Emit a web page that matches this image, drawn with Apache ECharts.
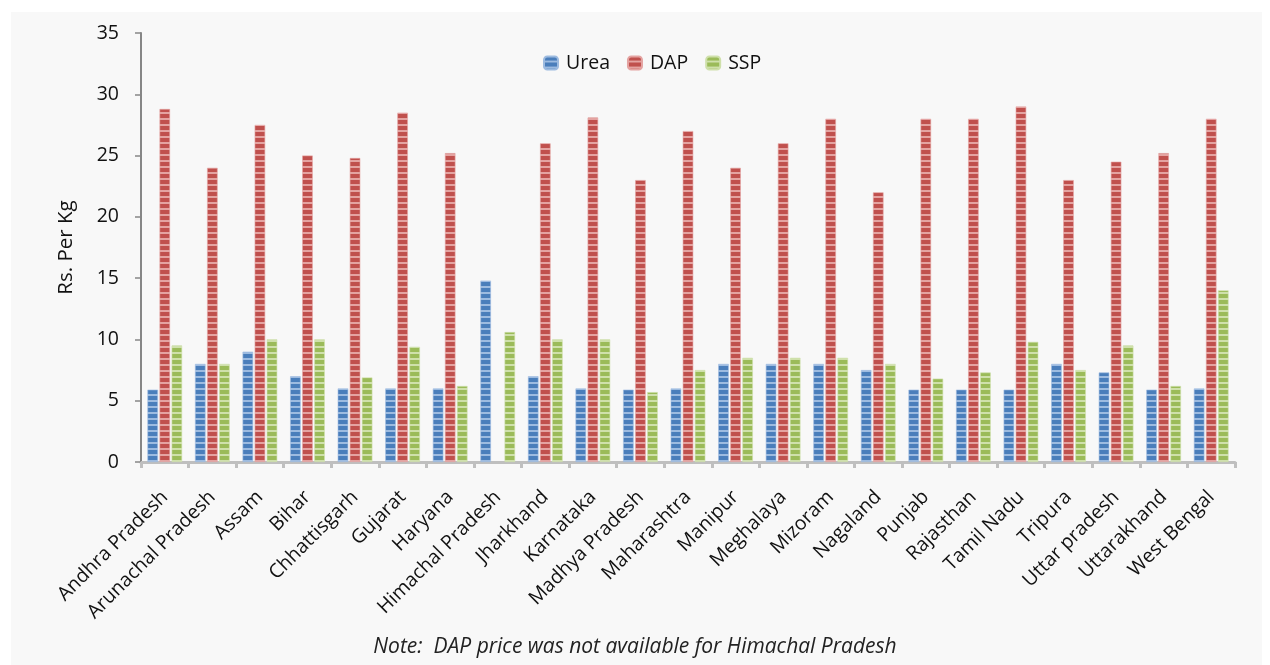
<!DOCTYPE html>
<html>
<head>
<meta charset="utf-8">
<script src="https://cdn.jsdelivr.net/npm/echarts@6/dist/echarts.min.js"></script>
<style>
  html, body { margin: 0; padding: 0; background: #ffffff; }
  #chart { width: 1270px; height: 665px; }
</style>
</head>
<body>
<div id="chart"></div>
<script>
// Fertilizer retail prices by state (Rs. per kg)
const states = [
  'Andhra Pradesh', 'Arunachal Pradesh', 'Assam', 'Bihar', 'Chhattisgarh',
  'Gujarat', 'Haryana', 'Himachal Pradesh', 'Jharkhand', 'Karnataka',
  'Madhya Pradesh', 'Maharashtra', 'Manipur', 'Meghalaya', 'Mizoram',
  'Nagaland', 'Punjab', 'Rajasthan', 'Tamil Nadu', 'Tripura',
  'Uttar pradesh', 'Uttarakhand', 'West Bengal'
];
const urea = [5.9, 8, 9, 7, 6, 6, 6, 14.8, 7, 6, 5.9, 6, 8, 8, 8, 7.5, 5.9, 5.9, 5.9, 8, 7.3, 5.9, 6];
// DAP price not available for Himachal Pradesh
const dap = [28.8, 24, 27.5, 25, 24.8, 28.5, 25.2, null, 26, 28.1, 23, 27, 24, 26, 28, 22, 28, 28, 29, 23, 24.5, 25.2, 28];
const ssp = [9.5, 8, 10, 10, 6.9, 9.4, 6.2, 10.6, 10, 10, 5.7, 7.5, 8.5, 8.5, 8.5, 8, 6.8, 7.3, 9.8, 7.5, 9.5, 6.2, 14];
const yTicks = { min: 0, max: 35, interval: 5 };

// Horizontal stripe fill used for the bars
function stripes(base, light) {
  const c = document.createElement('canvas');
  c.width = 4; c.height = 6;
  const g = c.getContext('2d');
  g.fillStyle = base; g.fillRect(0, 0, 4, 6);
  g.fillStyle = light; g.fillRect(0, 4, 4, 2);
  return { image: c, repeat: 'repeat' };
}

const FONT = '"Open Sans", "Noto Sans", sans-serif';
const palette = [
  { name: 'Urea', data: urea, base: '#4a7ebb', light: '#9dbbe0' },
  { name: 'DAP',  data: dap,  base: '#c0504d', light: '#e4a3a1' },
  { name: 'SSP',  data: ssp,  base: '#9bbb59', light: '#cfe0ab' }
];

const chart = echarts.init(document.getElementById('chart'), null, { renderer: 'canvas' });
chart.setOption({
  animation: false,
  backgroundColor: '#ffffff',
  graphic: [
    { type: 'rect', z: -10, shape: { x: 11, y: 12, width: 1251, height: 653 }, style: { fill: '#f8f8f8' } },
    {
      type: 'text', left: 'center', top: 637,
      style: {
        text: 'Note:  DAP price was not available for Himachal Pradesh',
        font: 'italic 21px ' + FONT, fill: '#222'
      }
    }
  ],
  legend: {
    top: 48, left: 538,
    itemWidth: 14, itemHeight: 13, itemGap: 17,
    textStyle: { fontFamily: FONT, fontSize: 19.5, color: '#111', padding: [0, 0, 0, 3] },
    data: ['Urea', 'DAP', 'SSP']
  },
  grid: { left: 141, right: 35, top: 33, bottom: 203 },
  xAxis: {
    type: 'category',
    data: states,
    axisLine: { lineStyle: { color: '#bfbfbf', width: 3 } },
    axisTick: { show: true, alignWithLabel: false, length: 6, lineStyle: { color: '#bfbfbf', width: 3 } },
    axisLabel: { rotate: 45, interval: 0, margin: 32, fontFamily: FONT, fontSize: 19.5, color: '#111' }
  },
  yAxis: {
    type: 'value',
    min: yTicks.min, max: yTicks.max, interval: yTicks.interval,
    name: 'Rs. Per Kg', nameLocation: 'middle', nameGap: 64,
    nameTextStyle: { fontFamily: FONT, fontSize: 20.5, color: '#111' },
    axisLine: { show: true, lineStyle: { color: '#868686', width: 2 } },
    axisTick: { show: true, length: 6, lineStyle: { color: '#868686', width: 1.5 } },
    axisLabel: { margin: 22, fontFamily: FONT, fontSize: 19.5, color: '#111' },
    splitLine: { show: false }
  },
  series: palette.map(p => ({
    name: p.name,
    type: 'bar',
    data: p.data,
    barWidth: 10.5,
    barGap: '15%',
    itemStyle: { color: stripes(p.base, p.light), borderColor: p.light, borderWidth: 0.6 }
  }))
});
</script>
</body>
</html>
